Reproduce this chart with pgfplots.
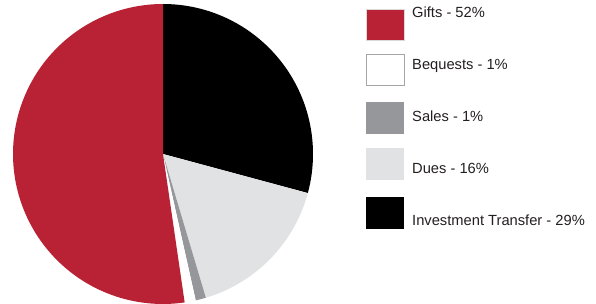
\documentclass[border=0pt]{standalone}
\usepackage{pgfplots}
\pgfplotsset{compat=1.18}
\usepackage{fontspec}
\setmainfont{Liberation Sans}
\definecolor{giftred}{RGB}{185,34,52}
\definecolor{salesgray}{RGB}{150,151,155}
\definecolor{duesgray}{RGB}{225,226,228}
\definecolor{txt}{RGB}{35,31,32}
\begin{document}
\begin{tikzpicture}
\begin{axis}[
  scale only axis, width=596bp, height=304bp,
  xmin=0, xmax=596, ymin=0, ymax=304,
  axis lines=none, clip=false,
  samples=80,
]
\path (axis cs:0,0) rectangle (axis cs:596,304);
% Pie: centre (163,150), radius 150; slices clockwise from 90 deg
% Investment Transfer 29.2 %, Dues 16.2 %, Sales 1.1 %, Bequests 1.2 %, Gifts 52.3 %
\addplot[fill=black, draw=none, domain=-15.1:90, variable=\t] ({163+150*cos(\t)},{150+150*sin(\t)}) -- (axis cs:163,150) -- cycle;
\addplot[fill=duesgray, draw=none, domain=-73.4:-15.1, variable=\t] ({163+150*cos(\t)},{150+150*sin(\t)}) -- (axis cs:163,150) -- cycle;
\addplot[fill=salesgray, draw=none, domain=-77.4:-73.4, samples=5, variable=\t] ({163+150*cos(\t)},{150+150*sin(\t)}) -- (axis cs:163,150) -- cycle;
\addplot[fill=white, draw=none, domain=-81.7:-77.4, samples=5, variable=\t] ({163+150*cos(\t)},{150+150*sin(\t)}) -- (axis cs:163,150) -- cycle;
\addplot[fill=giftred, draw=none, domain=90:278.3, samples=120, variable=\t] ({163+150*cos(\t)},{150+150*sin(\t)}) -- (axis cs:163,150) -- cycle;
% Legend boxes
\addplot[fill=giftred, draw=black!15, line width=0.8bp] coordinates {(366,264) (404,264) (404,295) (366,295)} -- cycle;
\addplot[fill=white, draw=black!35, line width=0.8bp] coordinates {(366,219) (404,219) (404,250) (366,250)} -- cycle;
\addplot[fill=salesgray, draw=none] coordinates {(366,170) (404,170) (404,202) (366,202)} -- cycle;
\addplot[fill=duesgray, draw=none] coordinates {(366,124) (404,124) (404,156) (366,156)} -- cycle;
\addplot[fill=black, draw=none] coordinates {(366,75) (404,75) (404,107) (366,107)} -- cycle;
% Legend texts
\begin{scope}[every node/.style={anchor=base west, inner sep=0pt, text=txt, font=\fontsize{14.7bp}{17bp}\selectfont}]
\node at (axis cs:412,286.5) {Gifts - 52\%};
\node at (axis cs:412,234) {Bequests - 1\%};
\node at (axis cs:412,182.7) {Sales - 1\%};
\node at (axis cs:412,130.7) {Dues - 16\%};
\node at (axis cs:412,78.3) {Investment Transfer - 29\%};
\end{scope}
\end{axis}
\end{tikzpicture}
\end{document}
